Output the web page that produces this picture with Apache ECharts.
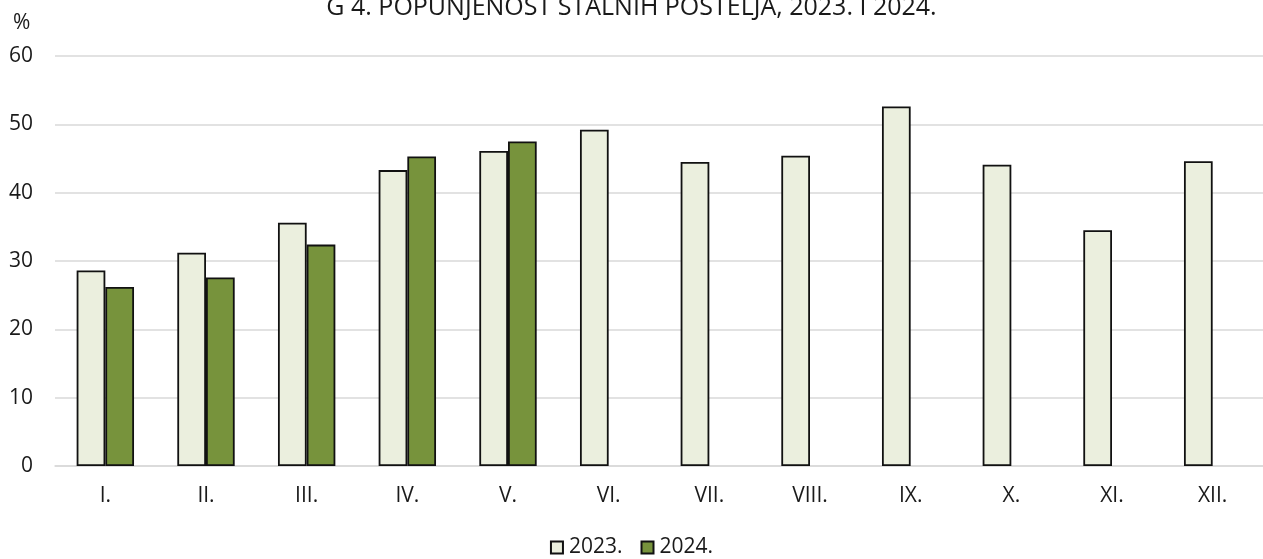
<!DOCTYPE html>
<html>
<head>
<meta charset="utf-8">
<script src="https://cdn.jsdelivr.net/npm/echarts@6/dist/echarts.min.js"></script>
<style>
  html, body { margin: 0; padding: 0; background: #fff; }
  #chart { width: 1263px; height: 559px; }
</style>
</head>
<body>
<div id="chart"></div>
<script>
var months = ['I.', 'II.', 'III.', 'IV.', 'V.', 'VI.', 'VII.', 'VIII.', 'IX.', 'X.', 'XI.', 'XII.'];
var occ2023 = [28.6, 31.2, 35.6, 43.3, 46.1, 49.2, 44.5, 45.4, 52.6, 44.1, 34.5, 44.6];
var occ2024 = [26.2, 27.6, 32.4, 45.3, 47.5];
var yTicks = [0, 10, 20, 30, 40, 50, 60];

var font = 'Open Sans';
var chart = echarts.init(document.getElementById('chart'));

var option = {
    animation: false,
    title: {
        text: 'G 4. POPUNJENOST STALNIH POSTELJA, 2023. I 2024.',
        left: 'center',
        top: -10,
        textStyle: { fontFamily: font, fontSize: 25, fontWeight: 'normal', color: '#1a1a1a' }
    },
    graphic: [{
        type: 'text',
        left: 13,
        top: 13,
        style: { text: '%', font: '21px "Open Sans"', fill: '#1a1a1a' }
    }],
    legend: {
        bottom: -4,
        left: 'center',
        icon: 'rect',
        itemWidth: 12,
        itemHeight: 12,
        itemGap: 18,
        textStyle: { fontFamily: font, fontSize: 21, color: '#1a1a1a', padding: [0, 0, 0, 1] },
        data: ['2023.', '2024.']
    },
    grid: { left: 55, right: -9, top: 56, bottom: 93 },
    xAxis: {
        type: 'category',
        data: months,
        axisTick: { show: false },
        axisLine: { lineStyle: { color: '#d9d9d9', width: 1.5 } },
        axisLabel: { margin: 20, fontFamily: font, fontSize: 21, color: '#1a1a1a' }
    },
    yAxis: {
        type: 'value',
        min: yTicks[0],
        max: yTicks[yTicks.length - 1],
        interval: 10,
        axisLine: { show: false },
        axisTick: { show: false },
        splitLine: { lineStyle: { color: '#d9d9d9', width: 1.5 } },
        axisLabel: { margin: 22, fontFamily: font, fontSize: 21, color: '#1a1a1a' }
    },
    series: [
        {
            name: '2023.',
            type: 'bar',
            data: occ2023,
            barGap: '0%',
            barCategoryGap: '43%',
            itemStyle: { color: '#ebefde', borderColor: '#111', borderWidth: 1.8 }
        },
        {
            name: '2024.',
            type: 'bar',
            data: occ2024,
            itemStyle: { color: '#77933c', borderColor: '#111', borderWidth: 1.8 }
        }
    ]
};
chart.setOption(option);
</script>
</body>
</html>
